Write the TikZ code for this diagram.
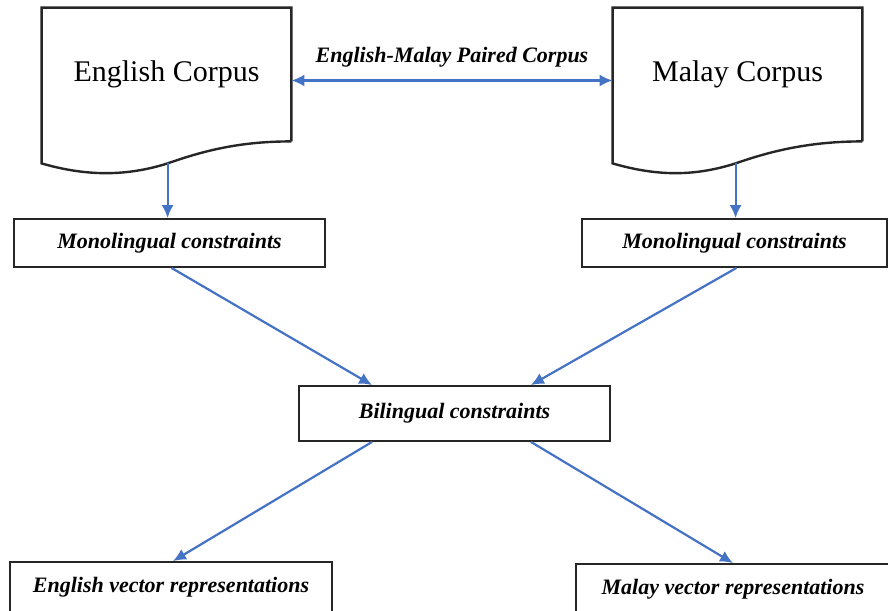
\documentclass[tikz,border=0pt]{standalone}
\usepackage{fontspec}
\setmainfont{Liberation Serif}
\usetikzlibrary{arrows.meta}
\definecolor{arrowblue}{RGB}{68,114,196}

\begin{document}
\begin{tikzpicture}[
        x=1pt, y=1pt,
        docnode/.style={minimum width=124.5pt, minimum height=66.5pt, inner sep=0pt, font=\fontsize{15}{18}\selectfont},
        docline/.style={draw=black!85, line width=1.2pt, line join=miter},
        constbox/.style={draw=black!85, line width=0.9pt, inner sep=0pt, font=\fontsize{11}{13}\selectfont\bfseries\itshape},
        link/.style={draw=arrowblue, line width=1.1pt, -{Latex[length=6.5pt, width=6pt]}}
    ]
            \useasboundingbox (0, 0) rectangle (444, -305);

            \node[docnode] (engdoc) at (83.25, -37.25) {English Corpus};
            \node[docnode] (msdoc) at (368.75, -37.25) {Malay Corpus};

            \draw[docline] (engdoc.south east) -- (engdoc.north east) -- (engdoc.north west) -- ([yshift=-11pt]engdoc.south west)
                .. controls +(24, -7) and +(-19, -6) .. ([shift={(63, -11)}]engdoc.south west) coordinate (engwave)
                .. controls +(18.5, 6.5) and +(-25.5, 0) .. (engdoc.south east);
            \draw[docline] (msdoc.south east) -- (msdoc.north east) -- (msdoc.north west) -- ([yshift=-11pt]msdoc.south west)
                .. controls +(24, -7) and +(-19, -6) .. ([shift={(61.5, -11)}]msdoc.south west) coordinate (mswave)
                .. controls +(18.5, 6.5) and +(-25.5, 0) .. (msdoc.south east);

            \node[constbox, minimum width=155.5pt, minimum height=24pt] (monoen) at (84.75, -121.5) {Monolingual constraints};
            \node[constbox, minimum width=152.5pt, minimum height=24pt] (monoms) at (367.25, -121.5) {Monolingual constraints};
            \node[constbox, minimum width=155.5pt, minimum height=27.5pt] (bili) at (227.25, -206.75) {Bilingual constraints};
            \node[constbox, minimum width=161pt, minimum height=25pt] (vecen) at (85.5, -293.5) {English vector representations};
            \node[constbox, minimum width=157pt, minimum height=25pt] (vecms) at (366.5, -294.5) {Malay vector representations};

            % paired corpus
            \draw[link, {Latex[length=6.5pt, width=6pt]}-{Latex[length=6.5pt, width=6pt]}] ([yshift=-3pt]engdoc.east) -- node[above=6pt, font=\fontsize{11}{13}\selectfont\bfseries\itshape, inner sep=0pt] (pairlabel) {English-Malay Paired Corpus} ([yshift=-3pt]msdoc.west);

            \draw[link] (engwave) -- (monoen.north -| engwave);
            \draw[link] (mswave) -- (monoms.north -| mswave);

            \draw[link] ([xshift=1pt]monoen.south) -- ([xshift=37pt]bili.north west);
            \draw[link] ([xshift=1pt]monoms.south) -- ([xshift=-40pt]bili.north east);
            \draw[link] ([xshift=37pt]bili.south west) -- ([xshift=1pt]vecen.north);
            \draw[link] ([xshift=-40pt]bili.south east) -- ([xshift=0pt]vecms.north);
        \end{tikzpicture}
\end{document}
